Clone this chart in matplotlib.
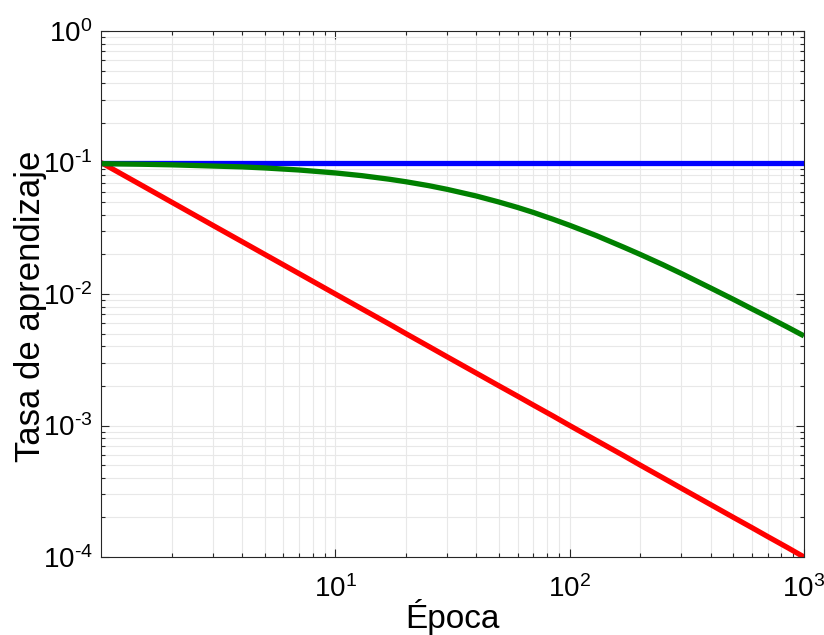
import matplotlib
matplotlib.use("Agg")
import matplotlib.pyplot as plt
from matplotlib.ticker import LogLocator, FixedLocator, FixedFormatter, NullFormatter

plt.rcParams['font.family'] = ['Liberation Sans', 'DejaVu Sans']
plt.rcParams['mathtext.fontset'] = 'custom'
plt.rcParams['mathtext.rm'] = 'Liberation Sans'
plt.rcParams['mathtext.default'] = 'regular'

epochs = [1, 1.5, 2, 3, 4, 5, 7, 10, 13, 17, 20, 25, 30, 40, 50, 60, 70, 85,
          100, 130, 170, 200, 250, 300, 400, 500, 600, 700, 850, 1000]
lr_constant = [0.1] * 30
lr_slow = [0.098, 0.097, 0.096, 0.094, 0.0926, 0.0909, 0.0877, 0.0833, 0.0794, 0.0746,
           0.0714, 0.0667, 0.0625, 0.0556, 0.050, 0.0455, 0.0417, 0.037,
           0.0333, 0.0278, 0.0227, 0.020, 0.0167, 0.0143, 0.0111, 0.0091, 0.0077,
           0.0067, 0.0056, 0.0048]
lr_fast = [0.1, 0.0667, 0.05, 0.0333, 0.025, 0.02, 0.0143, 0.01, 0.0077, 0.0059,
           0.005, 0.004, 0.00333, 0.0025, 0.002, 0.00167, 0.00143, 0.00118,
           0.001, 0.00077, 0.00059, 0.0005, 0.0004, 0.000333, 0.00025, 0.0002,
           0.000167, 0.000143, 0.000118, 0.0001]

xticks = [10, 100, 1000]
xticklabels = ['$10^{1}$', '$10^{2}$', '$10^{3}$']
yticks = [1e-4, 1e-3, 1e-2, 1e-1, 1e0]
yticklabels = ['$10^{\u2010 4}$', '$10^{\u2010 3}$', '$10^{\u2010 2}$', '$10^{\u2010 1}$', '$10^{0}$']

fig = plt.figure(figsize=(8.24, 6.35), dpi=100)
ax = fig.add_axes([101/824, 1 - 557/635, (804-101)/824, (557-31)/635])

ax.plot(epochs, lr_fast, color='#ff0000', lw=3.8, solid_capstyle='butt')
ax.plot(epochs, lr_constant, color='#0000ff', lw=3.8, solid_capstyle='butt')
ax.plot(epochs, lr_slow, color='#008000', lw=3.8, solid_capstyle='butt')

ax.set_xscale('log')
ax.set_yscale('log')
ax.set_xlim(1, 1000)
ax.set_ylim(1e-4, 1)

ax.xaxis.set_major_locator(FixedLocator(xticks))
ax.xaxis.set_major_formatter(FixedFormatter(xticklabels))
ax.yaxis.set_major_locator(FixedLocator(yticks))
ax.yaxis.set_major_formatter(FixedFormatter(yticklabels))
ax.xaxis.set_minor_locator(LogLocator(base=10, subs=range(2, 10)))
ax.yaxis.set_minor_locator(LogLocator(base=10, subs=range(2, 10)))
ax.xaxis.set_minor_formatter(NullFormatter())
ax.yaxis.set_minor_formatter(NullFormatter())

ax.grid(True, which='both', color='#e8e8e8', lw=0.8)
ax.set_axisbelow(True)
ax.tick_params(which='both', direction='in', top=True, right=True, color='#262626',
               labelcolor='black')
ax.tick_params(which='major', length=6, labelsize=20, width=0.8)
ax.tick_params(which='minor', length=3, width=0.8)
ax.tick_params(axis='x', pad=13)
ax.tick_params(axis='y', pad=6)
for s in ax.spines.values():
    s.set_color('#262626')
    s.set_linewidth(0.8)

ax.set_xlabel('Época', fontsize=24, labelpad=-3)
ax.set_ylabel('Tasa de aprendizaje', fontsize=25)
ax.yaxis.set_label_coords(-0.077, 0.477)

fig.savefig('out.png', dpi=100)
